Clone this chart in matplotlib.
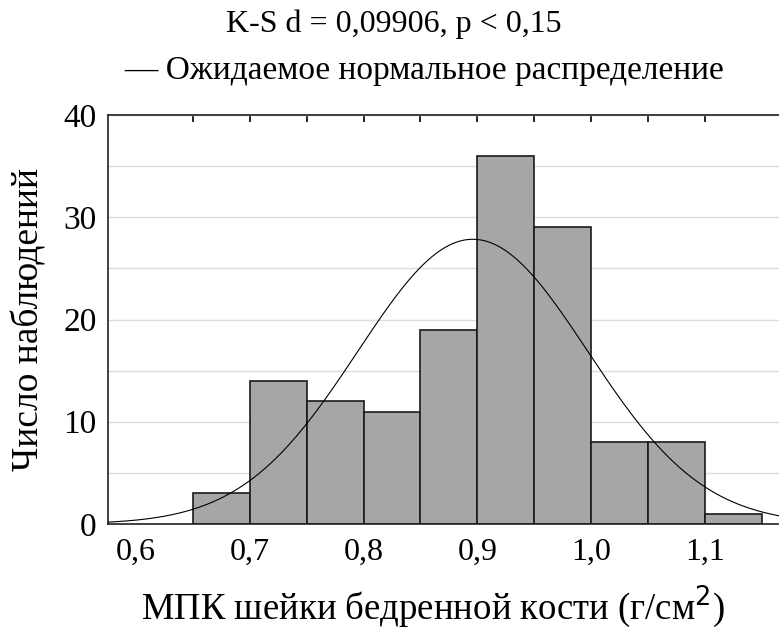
import numpy as np
import matplotlib
matplotlib.use("Agg")
import matplotlib.pyplot as plt
from matplotlib.ticker import MultipleLocator, FixedLocator, FuncFormatter

plt.rcParams['font.family'] = ['Liberation Serif', 'DejaVu Serif']

# Histogram of femoral neck BMD
bin_edges = [0.65, 0.70, 0.75, 0.80, 0.85, 0.90, 0.95, 1.00, 1.05, 1.10, 1.15]
counts = [3, 14, 12, 11, 19, 36, 29, 8, 8, 1]

# Fitted normal distribution parameters
mean_val = 0.896
sd_val = 0.101

x_ticks = [0.6, 0.7, 0.8, 0.9, 1.0, 1.1]
y_ticks = [0, 10, 20, 30, 40]

title_line1 = "K-S d = 0,09906, p < 0,15"
title_line2 = "— Ожидаемое нормальное распределение"
xlabel_text = "МПК шейки бедренной кости (г/см$^2$)"
ylabel_text = "Число наблюдений"

fig = plt.figure(figsize=(7.79, 6.32), dpi=100)
ax = fig.add_axes([0.1386, 0.1709, 0.8614, 0.6471])

edges = np.array(bin_edges)
widths = np.diff(edges)
ax.bar(edges[:-1], counts, width=widths, align='edge', color='#a6a6a6',
       edgecolor='#1a1a1a', linewidth=1.2, zorder=2)

n_total = sum(counts)
bw = widths[0]
xs = np.linspace(0.57, 1.17, 400)
ys = n_total * bw / (sd_val * np.sqrt(2 * np.pi)) * np.exp(-0.5 * ((xs - mean_val) / sd_val) ** 2)
ax.plot(xs, ys, color='black', linewidth=0.8, zorder=3)

ax.set_xlim(0.5755, 1.165)
ax.set_ylim(0, 40)

ax.set_yticks(y_ticks)
ax.yaxis.set_minor_locator(MultipleLocator(5))
ax.grid(axis='y', which='both', color='#dcdcdc', linewidth=1.0, zorder=0)
ax.set_axisbelow(True)

ax.set_xticks(x_ticks)
ax.xaxis.set_major_formatter(FuncFormatter(lambda v, p: f"{v:.1f}".replace('.', ',')))
ax.tick_params(axis='x', which='major', length=0, labelsize=23, pad=10)
ax.tick_params(axis='y', which='major', length=0, labelsize=24, pad=8)
ax.tick_params(axis='y', which='minor', length=0)

# bin-edge ticks along the top spine
top = ax.secondary_xaxis('top')
top.xaxis.set_major_locator(FixedLocator(bin_edges[:-1]))
top.tick_params(direction='in', length=5, width=1.2, labelsize=0, labeltop=False)
top.spines['top'].set_visible(False)

for s in ['left', 'top', 'bottom']:
    ax.spines[s].set_linewidth(1.2)
    ax.spines[s].set_color('#222222')
ax.spines['right'].set_visible(False)

ax.set_xlabel(xlabel_text, fontsize=26.5, labelpad=12)
ax.xaxis.label.set_x(0.484)
ax.set_ylabel(ylabel_text, fontsize=27, labelpad=12)
fig.text(0.505, 0.950, title_line1, ha='center', va='baseline', fontsize=23)
fig.text(0.545, 0.875, title_line2, ha='center', va='baseline', fontsize=24)

fig.savefig("out.png", dpi=100)
